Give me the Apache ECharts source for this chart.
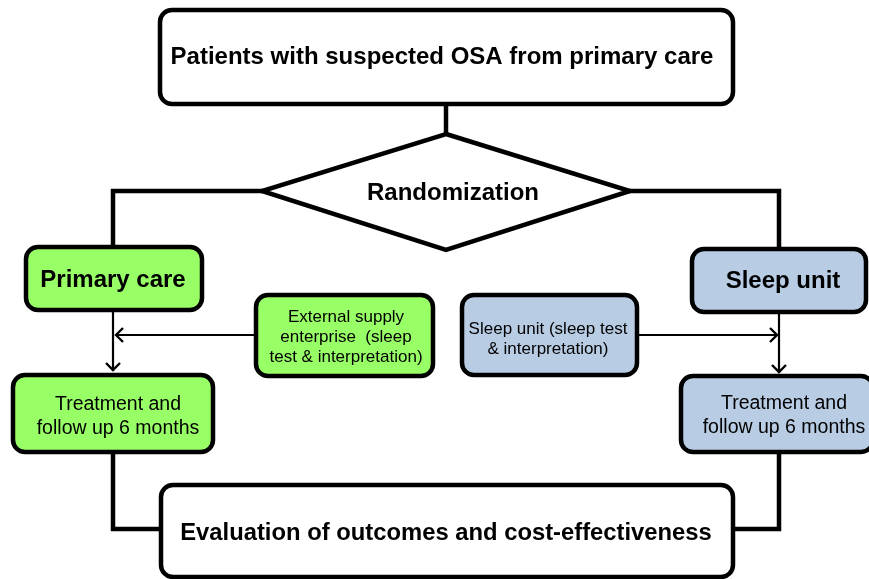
<!DOCTYPE html>
<html>
<head>
<meta charset="utf-8">
<script src="https://cdn.jsdelivr.net/npm/echarts@6/dist/echarts.min.js"></script>
<style>html,body{margin:0;padding:0;background:#fff}#c{width:869px;height:579px}</style>
</head>
<body>
<div id="c"></div>
<script>
// Flowchart texts
const titleText = "Patients with suspected OSA from primary care";
const decisionText = "Randomization";
const armLabels = ["Primary care", "Sleep unit"];
const testLabels = ["External supply\nenterprise  (sleep\ntest & interpretation)", "Sleep unit (sleep test\n& interpretation)"];
const treatmentLabels = ["Treatment and\nfollow up 6 months", "Treatment and\nfollow up 6 months"];
const outcomeText = "Evaluation of outcomes and cost-effectiveness";
const armColors = ["#99FF66", "#B8CCE4"];

const FONT = "'Liberation Sans', Arial, Helvetica, sans-serif";
const chart = echarts.init(document.getElementById('c'));

function label(cx, cy, text, size, bold, lh) {
  return {
    type: 'text',
    x: cx, y: cy,
    style: {
      text: text,
      fontSize: size,
      fontWeight: bold ? 'bold' : 'normal',
      fontFamily: FONT,
      fill: '#000',
      align: 'center',
      verticalAlign: 'middle',
      lineHeight: lh || Math.round(size * 1.2)
    },
    z: 20
  };
}
function rect(x, y, w, h, fill) {
  return {
    type: 'rect',
    shape: { x: x, y: y, width: w, height: h, r: 12 },
    style: { fill: fill, stroke: '#000', lineWidth: 4.5 },
    z: 10
  };
}
function line(points, lw) {
  return { type: 'polyline', shape: { points: points }, style: { stroke: '#000', lineWidth: lw || 4.5, fill: null }, z: 5 };
}
function arrowHead(x, y, dir) {
  let pts;
  const s = 7;
  if (dir === 'left') pts = [[x + s, y - s], [x, y], [x + s, y + s]];
  else if (dir === 'right') pts = [[x - s, y - s], [x, y], [x - s, y + s]];
  else pts = [[x - s, y - s], [x, y], [x + s, y - s]];
  return { type: 'polyline', shape: { points: pts }, style: { stroke: '#000', lineWidth: 2.4, fill: null }, z: 6 };
}

const elements = [];
// connectors
elements.push(line([[446, 104], [446, 135]]));
elements.push(line([[264, 191], [113, 191], [113, 248]]));
elements.push(line([[628, 191], [779, 191], [779, 250]]));
elements.push(line([[113, 310], [113, 371]], 2.2));
elements.push(arrowHead(113, 370, 'down'));
elements.push(line([[779, 312], [779, 373]], 2.2));
elements.push(arrowHead(779, 372, 'down'));
elements.push(line([[256, 335], [116, 335]], 2.2));
elements.push(arrowHead(116, 335, 'left'));
elements.push(line([[637, 335], [777, 335]], 2.2));
elements.push(arrowHead(777, 335, 'right'));
elements.push(line([[113, 452], [113, 529], [162, 529]]));
elements.push(line([[779, 452], [779, 529], [731, 529]]));

// diamond
elements.push({
  type: 'polygon',
  shape: { points: [[446, 134], [630, 191], [446, 250], [262, 191]] },
  style: { fill: '#fff', stroke: '#000', lineWidth: 4.5 },
  z: 10
});

// boxes
elements.push(rect(160, 10, 573, 94, '#fff'));
elements.push(rect(26, 247, 176, 63, armColors[0]));
elements.push(rect(692, 249, 174, 63, armColors[1]));
elements.push(rect(256, 295, 177, 81, armColors[0]));
elements.push(rect(462, 295, 175, 80, armColors[1]));
elements.push(rect(13, 375, 200, 77, armColors[0]));
elements.push(rect(681, 376, 192, 76, armColors[1]));
elements.push(rect(161, 485, 572, 92, '#fff'));

// texts
elements.push(label(442, 57, titleText, 24, true, 28));
elements.push(label(453, 193, decisionText, 24, true, 28));
elements.push(label(113, 280, armLabels[0], 24, true, 28));
elements.push(label(783, 281, armLabels[1], 24, true, 28));
elements.push(label(346, 337, testLabels[0], 17, false, 20));
elements.push(label(548, 339, testLabels[1], 17, false, 20));
elements.push(label(118, 417, treatmentLabels[0], 19.5, false, 24));
elements.push(label(784, 416, treatmentLabels[1], 19.5, false, 24));
elements.push(label(446, 533, outcomeText, 23.8, true, 28));

chart.setOption({
  backgroundColor: '#fff',
  animation: false,
  graphic: { elements: elements }
});
</script>
</body>
</html>
